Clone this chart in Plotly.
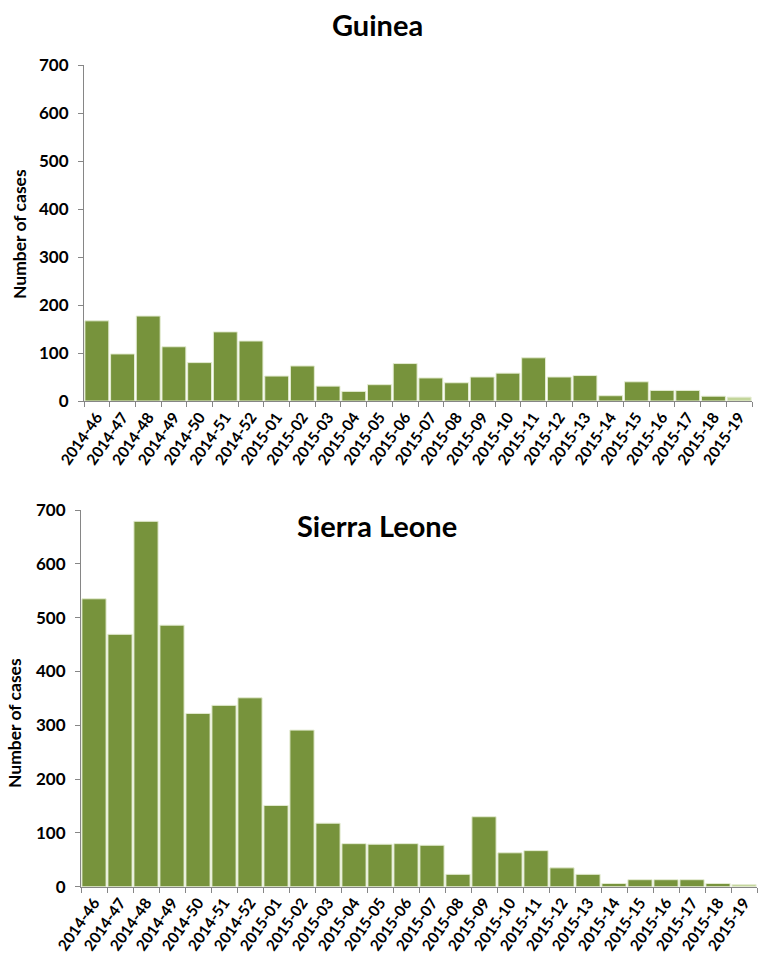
import plotly.graph_objects as go

weeks = ["2014-46", "2014-47", "2014-48", "2014-49", "2014-50", "2014-51", "2014-52",
         "2015-01", "2015-02", "2015-03", "2015-04", "2015-05", "2015-06", "2015-07",
         "2015-08", "2015-09", "2015-10", "2015-11", "2015-12", "2015-13", "2015-14",
         "2015-15", "2015-16", "2015-17", "2015-18", "2015-19"]

guinea_cases = [167, 98, 177, 113, 80, 144, 125, 52, 73, 31, 20, 34, 78, 48,
                38, 50, 58, 90, 50, 53, 11, 40, 22, 22, 10, 8]

sierra_cases = [535, 469, 679, 486, 322, 337, 351, 151, 291, 118, 80, 79, 80, 77,
                23, 130, 63, 67, 35, 23, 6, 13, 13, 13, 6, 4]

y_ticks = [0, 100, 200, 300, 400, 500, 600, 700]

DARK = "#77933C"
LIGHT = "#C3D69B"
FONT = "Lato"

def colors(n):
    return [DARK] * (n - 1) + [LIGHT]

fig = go.Figure()
fig.add_trace(go.Bar(x=weeks, y=guinea_cases, xaxis="x", yaxis="y",
                     marker=dict(color=colors(len(weeks)),
                                 line=dict(color="#E4ECD2", width=1)),
                     showlegend=False))
fig.add_trace(go.Bar(x=weeks, y=sierra_cases, xaxis="x2", yaxis="y2",
                     marker=dict(color=colors(len(weeks)),
                                 line=dict(color="#E4ECD2", width=1)),
                     showlegend=False))

W, H = 760, 956

def fx(px):
    return px / W

def fy(py):
    return 1 - py / H

axis_common = dict(showline=True, linecolor="#868686", linewidth=1,
                   ticks="outside", tickcolor="#868686", ticklen=5,
                   showgrid=False, zeroline=False, automargin=False)

xcommon = dict(axis_common, type="category", tickson="boundaries", tickangle=-55,
               tickfont=dict(family=FONT, size=15.5, color="black", weight="bold"))
ycommon = dict(axis_common, range=[0, 700], tickvals=y_ticks, ticklabelstandoff=6,
               tickfont=dict(family=FONT, size=17, color="black", weight="bold"))

fig.update_layout(
    width=W, height=H,
    margin=dict(l=0, r=0, t=0, b=0),
    plot_bgcolor="white", paper_bgcolor="white",
    bargap=0.07,
    xaxis=dict(xcommon, domain=[fx(84), fx(752)], anchor="y"),
    yaxis=dict(ycommon, domain=[fy(401), fy(65)], anchor="x"),
    xaxis2=dict(xcommon, domain=[fx(81), fx(757)], anchor="y2"),
    yaxis2=dict(ycommon, domain=[fy(886.7), fy(510)], anchor="x2"),
    annotations=[
        dict(text="Guinea", x=fx(377), y=fy(25), xref="paper", yref="paper",
             xanchor="center", yanchor="middle", showarrow=False,
             font=dict(family=FONT, size=29, color="black", weight="bold")),
        dict(text="Sierra Leone", x=fx(377), y=fy(525), xref="paper", yref="paper",
             xanchor="center", yanchor="middle", showarrow=False,
             font=dict(family=FONT, size=29, color="black", weight="bold")),
        dict(text="Number of cases", x=fx(19), y=fy(234), xref="paper", yref="paper",
             xanchor="center", yanchor="middle", textangle=-90, showarrow=False,
             font=dict(family=FONT, size=17.5, color="black", weight="bold")),
        dict(text="Number of cases", x=fx(14), y=fy(723), xref="paper", yref="paper",
             xanchor="center", yanchor="middle", textangle=-90, showarrow=False,
             font=dict(family=FONT, size=17.5, color="black", weight="bold")),
    ],
)

fig.write_html("out.html", config={"displayModeBar": False},
               post_script="document.body.style.margin='0';document.body.style.overflow='hidden';")
